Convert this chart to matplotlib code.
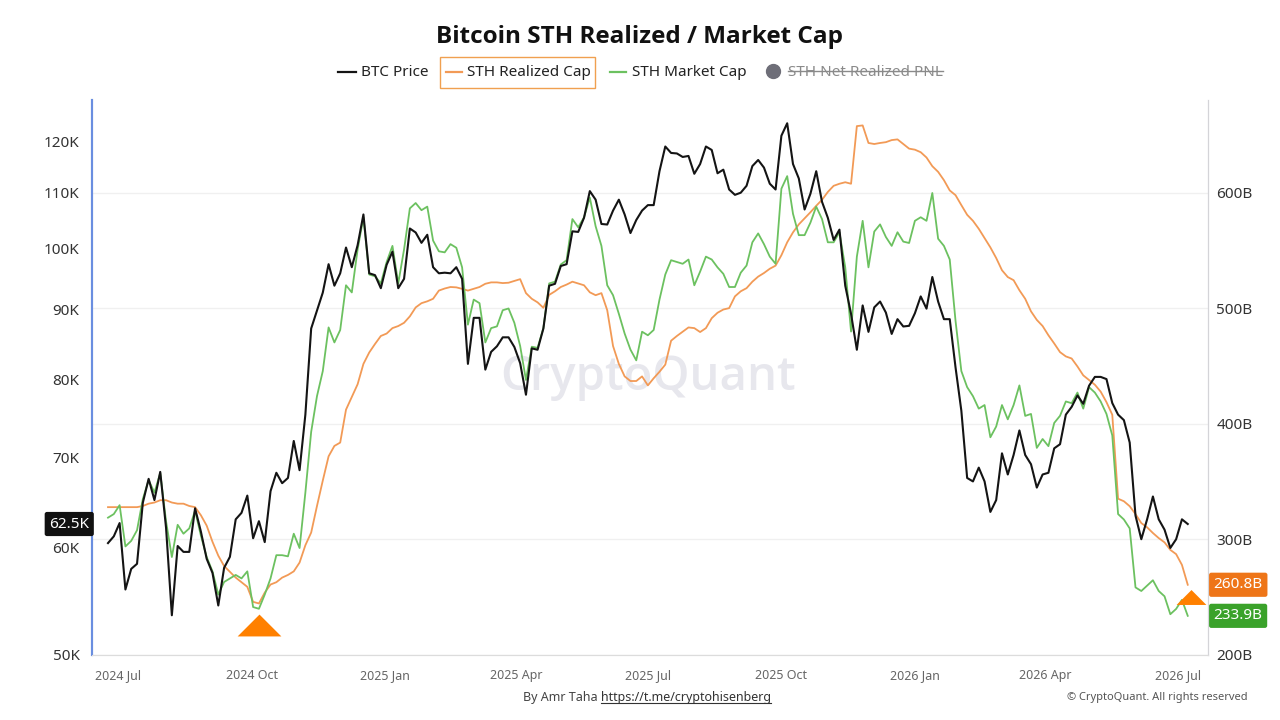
import matplotlib.pyplot as plt
import matplotlib.ticker as mticker
from matplotlib.lines import Line2D
from matplotlib.path import Path
from matplotlib.patches import Rectangle
import pandas as pd

plt.rcParams['font.family'] = ['Noto Sans', 'DejaVu Sans']

# readings taken off the reference chart, one every 4 days
dates = pd.date_range('2024-06-24', periods=187, freq='4D')

# BTC price, thousands of USD
btc_price = [
    60.5, 61.2, 62.6, 55.9, 57.9, 58.4, 64.8, 67.5, 65.1, 68.3, 62.1, 53.5, 60.2, 59.6, 59.6, 64.2,
    61.7, 58.9, 57.5, 54.4, 58.0, 59.1, 63.0, 63.7, 65.6, 61.0, 62.8, 60.6, 66.1, 68.2, 67.0,
    67.6, 72.0, 68.5, 75.3, 87.2, 89.9, 92.7, 97.3, 93.8, 95.8, 100.1, 96.8, 100.5, 105.9, 95.8, 95.5,
    93.4, 97.2, 99.4, 93.4, 94.9, 103.4, 102.7, 100.9, 102.3, 96.8, 95.8, 95.9, 95.8, 96.8, 94.9, 82.1,
    88.8, 88.8, 81.3, 83.8, 84.6, 85.9, 85.9, 84.5, 82.2, 77.9, 84.3, 84.1, 87.2, 93.8, 94.1, 97.0,
    97.3, 102.9, 102.8, 105.3, 110.2, 108.6, 104.2, 104.1, 106.6, 108.6, 105.9, 102.6, 104.9, 106.6, 107.6, 107.6,
    114.0, 118.9, 117.6, 117.5, 116.8, 117.0, 113.5, 115.4, 118.9, 118.2, 113.6, 114.3, 110.5, 109.5, 109.9, 111.2,
    115.0, 116.2, 114.7, 111.6, 110.5, 121.1, 123.7, 115.4, 112.6, 106.8, 109.7, 114.0, 108.2, 105.3, 101.4, 103.2,
    93.8, 89.4, 84.1, 90.7, 86.7, 90.4, 91.3, 89.6, 86.4, 88.6, 87.5, 87.6, 89.5, 92.1, 90.2, 95.2,
    91.3, 88.6, 88.6, 81.6, 75.8, 67.6, 67.2, 68.8, 67.2, 63.8, 65.1, 70.5, 68.0, 70.3, 73.3, 70.3,
    69.2, 66.5, 68.0, 68.2, 71.1, 71.6, 75.3, 76.3, 77.8, 76.7, 79.1, 80.3, 80.3, 80.0, 76.8, 75.3,
    74.6, 71.8, 63.4, 60.9, 63.0, 65.5, 63.0, 61.9, 60.0, 60.9, 63.0, 62.5,
]

# STH market cap, billions of USD
sth_market_cap = [
    318.9, 322, 329.7, 294, 298.8, 308, 335, 351.4, 340.6, 357.6, 315.8, 284.8, 312.7, 305, 309.6, 325,
    303.4, 284.8, 272.4, 252.3, 263.2, 266.3, 269.3, 266.3, 272.4, 241.5, 240, 252.3, 266.3, 286.4, 286.4,
    285.4, 305, 292.6, 340.6, 393.2, 424.1, 445.8, 483.6, 470.6, 481.4, 520.1, 513.9, 551.1, 579, 529.4, 527.9,
    521.7, 540.2, 554.2, 521.7, 551.1, 586.7, 591.3, 585.1, 588.2, 558.8, 549.5, 548.6, 555.7, 552.6, 535.6, 486,
    507.7, 504.6, 470.6, 483, 484.5, 498.5, 500, 487.6, 467.5, 438.1, 466.9, 465.9, 483, 521.7, 523.2, 538.1,
    541.8, 577.4, 570.3, 578.9, 596, 571.2, 554.2, 520.1, 511.5, 495.4, 478.3, 464.4, 455.1, 479.9, 476.8, 481.4,
    507.7, 529.4, 541.8, 540.2, 538.7, 542.4, 520.1, 531.9, 544.9, 542.4, 535.6, 530, 518.6, 518.6, 531, 537.2,
    557.3, 565, 555.7, 544.9, 538.7, 603.7, 614.6, 582, 563.5, 563.5, 574.3, 588.2, 577.4, 557.3, 557.3, 566,
    535.6, 480, 544.9, 575.9, 535.6, 566.6, 572.8, 561.9, 554.2, 566, 557.9, 556.7, 575.9, 579, 575.9, 600,
    560.4, 554.2, 542.4, 489.2, 445.8, 431.9, 424.1, 413.3, 416.4, 388.5, 397.8, 416.4, 404, 416.4, 433.4, 407,
    408.7, 379.3, 387, 380.8, 400.9, 407.1, 419.5, 418, 427.2, 413.3, 431.9, 427.2, 419.5, 408.7, 390.1, 322,
    317.3, 309.6, 258.5, 255.4, 260, 264.7, 255.4, 250.8, 235.3, 239.9, 247.7, 233.9,
]

# STH realized cap, billions of USD
sth_realized_cap = [
    328, 328, 328, 328, 328, 328, 329, 331, 332, 334, 334, 332, 331, 331, 329, 328,
    321, 312, 298, 286, 277, 272, 267, 263, 259, 246, 244.6, 254, 261, 263, 267,
    269.3, 272.4, 280, 295, 306, 329, 351, 372, 381, 383.9, 412.4, 423.5, 434.4, 452, 461.9, 469.3,
    476.2, 478.3, 483, 484.8, 487.6, 493.2, 500.9, 504.6, 506.2, 508.4, 515.5, 517.3, 518.6, 518.3, 517, 515.5,
    517, 518.6, 521.4, 522.6, 522.6, 522, 522.3, 523.8, 525.4, 513.3, 508.4, 505.3, 500.6, 511.8, 514.9, 518.6,
    520.7, 523.2, 521.7, 520.1, 514, 511.5, 513.3, 498.5, 467.5, 452, 441.2, 437.2, 437.2, 441.2, 433.4, 439.6,
    445.2, 451.4, 472.1, 476.2, 479.9, 483.6, 483, 479.6, 483, 491.6, 496.3, 499.1, 500.3, 510.5, 514.9, 517.6,
    523.2, 527.6, 530.7, 534.4, 537.1, 546.1, 557.3, 565.9, 572.8, 578, 583.3, 588.9, 594.1, 600.9, 606.2, 608,
    609.3, 608, 657.9, 658.5, 643.3, 642.4, 643.3, 644, 645.8, 646.4, 642.4, 638.4, 637.5, 635.3, 630.7, 623.2,
    618.3, 611.1, 602.2, 598.1, 589.5, 581.1, 575.9, 569, 561, 552.9, 543.7, 533.1, 527.2, 524.5, 515.8, 508.4,
    497.5, 490.1, 484.8, 476.8, 469.7, 462.2, 458.5, 456.7, 449.8, 442.1, 438.1, 434, 428, 418.9, 408, 335.3,
    333.1, 328.8, 322, 314.2, 310.5, 305.6, 301.2, 297.5, 291, 287.3, 278, 260.8,
]

tick_dates = ['2024-07-01', '2024-10-01', '2025-01-01', '2025-04-01', '2025-07-01',
              '2025-10-01', '2026-01-01', '2026-04-01', '2026-07-01']
tick_labels = ['2024 Jul', '2024 Oct', '2025 Jan', '2025 Apr', '2025 Jul',
               '2025 Oct', '2026 Jan', '2026 Apr', '2026 Jul']
price_ticks = [50, 60, 70, 80, 90, 100, 110, 120]
cap_ticks = [200, 300, 400, 500, 600]

# orange signal triangles (date, cap value)
signal_dates = ['2024-10-06', '2026-07-10']
signal_caps = [226, 250]

C_BTC = '#141414'
C_REAL = '#f29a56'
C_MKT = '#6cc160'
BOLD = ['Open Sans', 'DejaVu Sans']

fig = plt.figure(figsize=(12.8, 7.2), dpi=100)
axc = fig.add_axes([0.0719, 0.0903, 0.8719, 0.7708])
axp = axc.twinx()

# cap axis (right), drawn first
axc.yaxis.tick_right()
axc.set_ylim(200, 680.5)
axc.set_yticks(cap_ticks)
axc.set_yticklabels([f'{v}B' for v in cap_ticks])
axc.grid(axis='y', color='#f0f0f0', lw=1)
axc.set_axisbelow(True)
axc.plot(dates, sth_realized_cap, color=C_REAL, lw=1.3, zorder=2)
axc.plot(dates, sth_market_cap, color=C_MKT, lw=1.3, zorder=3)

tri = Path([(-1, -0.5), (1, -0.5), (0, 0.5), (-1, -0.5)],
           [Path.MOVETO, Path.LINETO, Path.LINETO, Path.CLOSEPOLY])
for d, v, ms in zip(pd.to_datetime(signal_dates), signal_caps, [31.5, 21.5]):
    axc.plot([d], [v], marker=tri, ms=ms, color='#ff8000', mec='none',
             zorder=5, clip_on=False)

axc.text(0.498, 0.5, 'CryptoQuant', transform=axc.transAxes, fontsize=34,
         family=BOLD, fontweight='semibold', color='#e7e7ed', ha='center', va='center', zorder=0)

# price axis (left, log)
axp.yaxis.tick_left()
axp.set_yscale('log')
axp.set_ylim(50, 128.7)
axp.yaxis.set_major_locator(mticker.FixedLocator(price_ticks))
axp.yaxis.set_minor_locator(mticker.NullLocator())
axp.set_yticklabels([f'{v}K' for v in price_ticks])
axp.plot(dates, btc_price, color=C_BTC, lw=1.5, zorder=4)

axc.set_xlim(pd.Timestamp('2024-06-13'), pd.Timestamp('2026-07-22'))
axc.set_xticks(pd.to_datetime(tick_dates))
axc.set_xticklabels(tick_labels)

for a in (axc, axp):
    a.spines['top'].set_visible(False)
    a.spines['left'].set_color('#6a8ee0')
    a.spines['left'].set_linewidth(1.5)
    a.spines['right'].set_color('#d4d4d8')
    a.spines['bottom'].set_color('#dcdcdc')
axc.tick_params(axis='x', labelsize=9, colors='#666666', length=0, pad=10)
axc.tick_params(axis='y', labelsize=11, colors='#333333', length=0, pad=6)
axp.tick_params(axis='y', labelsize=11, colors='#333333', length=0, pad=9)

# last-value tags
axp.annotate('62.5K', xy=(0, btc_price[-1]), xycoords=('axes fraction', 'data'),
             xytext=(-2, 0), textcoords='offset points', ha='right', va='center',
             color='white', fontsize=11,
             bbox=dict(boxstyle='round,pad=0.3,rounding_size=0.15', fc='#111111', ec='none'))
axc.annotate(f'{sth_realized_cap[-1]}B', xy=(1, sth_realized_cap[-1]),
             xycoords=('axes fraction', 'data'), xytext=(4, 0), textcoords='offset points',
             ha='left', va='center', color='white', fontsize=11,
             bbox=dict(boxstyle='round,pad=0.3,rounding_size=0.15', fc='#ee7518', ec='none'))
axc.annotate(f'{sth_market_cap[-1]}B', xy=(1, sth_market_cap[-1]),
             xycoords=('axes fraction', 'data'), xytext=(4, 0), textcoords='offset points',
             ha='left', va='center', color='white', fontsize=11,
             bbox=dict(boxstyle='round,pad=0.3,rounding_size=0.15', fc='#3aa22a', ec='none'))

# title and legend
fig.text(0.5, 0.949, 'Bitcoin STH Realized / Market Cap', ha='center', va='center',
         fontsize=17.5, family=BOLD, fontweight='bold', color='#111111')

ly = 0.9
fig.add_artist(Rectangle((0.3438, 0.8778), 0.1211, 0.0431, transform=fig.transFigure,
                         fill=False, ec='#f0a050', lw=1))
for x0, x1, c in [(0.2641, 0.2781, C_BTC), (0.3484, 0.3609, C_REAL), (0.4766, 0.4891, C_MKT)]:
    fig.add_artist(Line2D([x0, x1], [ly, ly], transform=fig.transFigure, color=c, lw=1.6))
fig.add_artist(Line2D([0.6039], [ly + 0.001], transform=fig.transFigure, marker='o', ms=10,
                      color='#6e6e78', lw=0))
fig.text(0.282, ly, 'BTC Price', ha='left', va='center', fontsize=11, color='#222222')
fig.text(0.3648, ly, 'STH Realized Cap', ha='left', va='center', fontsize=11, color='#222222')
fig.text(0.4938, ly, 'STH Market Cap', ha='left', va='center', fontsize=11, color='#222222')
pnl = fig.text(0.6156, ly, 'STH Net Realized PNL', ha='left', va='center', fontsize=11,
               color='#8a8a8a')

# footer
by = fig.text(0.4695, 0.0306, 'By Amr Taha ', ha='right', va='center', fontsize=9, color='#444444')
link = fig.text(0.4695, 0.0306, 'https://t.me/cryptohisenberg', ha='left', va='center',
                fontsize=9, color='#333333')
fig.text(0.975, 0.0306, '\u00a9 CryptoQuant. All rights reserved', ha='right', va='center',
         fontsize=8, color='#555555')

fig.canvas.draw()
r = fig.canvas.get_renderer()
inv = fig.transFigure.inverted()
bb = pnl.get_window_extent(r).transformed(inv)
fig.add_artist(Line2D([bb.x0, bb.x1], [ly + 0.002, ly + 0.002], transform=fig.transFigure,
                      color='#8a8a8a', lw=1))
bb = link.get_window_extent(r).transformed(inv)
fig.add_artist(Line2D([bb.x0, bb.x1], [bb.y0 + 0.002, bb.y0 + 0.002], transform=fig.transFigure,
                      color='#333333', lw=0.8))

fig.savefig('out.png', dpi=100, facecolor='white')
